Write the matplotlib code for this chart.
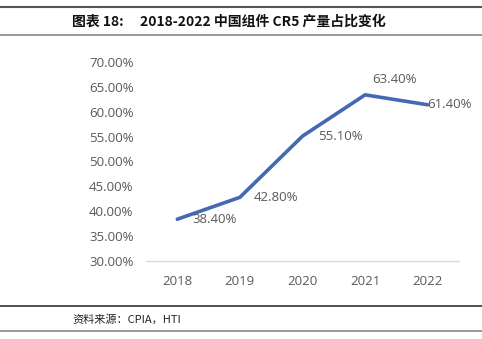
import matplotlib
matplotlib.use("Agg")
import matplotlib.pyplot as plt
from matplotlib.lines import Line2D
import matplotlib.ticker as ticker

years = ["2018", "2019", "2020", "2021", "2022"]
cr5 = [38.4, 42.8, 55.1, 63.4, 61.4]
labels = ["38.40%", "42.80%", "55.10%", "63.40%", "61.40%"]
# label offsets in points (dx, dy) relative to each point
offsets = [(11, 0), (10, 0), (11, 0), (5, 11), (0, 0)]

W, H = 482, 339
fig = plt.figure(figsize=(W / 100, H / 100), dpi=100)
ax = fig.add_axes([146 / W, 1 - 261 / H, (459 - 146) / W, (261 - 62) / H])

gray = "#595959"
tick_font = "Open Sans"

x = list(range(len(years)))
ax.plot(x, cr5, color="#4568B5", linewidth=2.6, solid_capstyle="round")
for xi, yi, lab, (dx, dy) in zip(x, cr5, labels, offsets):
    ax.annotate(lab, (xi, yi), xytext=(dx, dy), textcoords="offset points",
                ha="left", va="center", fontsize=9.5, color=gray,
                family=tick_font)

ax.set_xlim(-0.5, len(years) - 0.5)
ax.set_ylim(30, 70)
ax.yaxis.set_major_locator(ticker.MultipleLocator(5))
ax.yaxis.set_major_formatter(ticker.FuncFormatter(lambda v, p: f"{v:.2f}%"))
ax.set_xticks(x)
ax.set_xticklabels(years)

for s in ["top", "right", "left"]:
    ax.spines[s].set_visible(False)
ax.spines["bottom"].set_color("#D9D9D9")
ax.spines["bottom"].set_linewidth(1.0)
ax.tick_params(axis="both", length=0, colors=gray, labelsize=9.5)
ax.tick_params(axis="x", pad=10)
ax.tick_params(axis="y", pad=9)
for t in ax.get_xticklabels() + ax.get_yticklabels():
    t.set_family(tick_font)

# horizontal rules of the report frame
def hline(ypix, color, lw):
    fig.add_artist(Line2D([0, 1], [1 - ypix / H, 1 - ypix / H],
                          transform=fig.transFigure, color=color, linewidth=lw))

hline(7, "#555555", 1.5)
hline(35, "#888888", 1.2)
hline(306, "#333333", 1.2)
hline(331, "#888888", 1.2)

cjk = ["Noto Sans CJK SC", "DejaVu Sans"]
fig.text(72 / W, 1 - 22 / H, "图表 18:", family=cjk, fontsize=10,
         fontweight="bold", va="center", ha="left", color="#111111")
fig.text(140 / W, 1 - 22 / H, "2018-2022 中国组件 CR5 产量占比变化", family=cjk,
         fontsize=10, fontweight="bold", va="center", ha="left", color="#111111")
fig.text(72 / W, 1 - 319 / H, "资料来源：CPIA，HTI", family=cjk, fontsize=8,
         va="center", ha="left", color="#222222")

fig.savefig("out.png", dpi=100)
